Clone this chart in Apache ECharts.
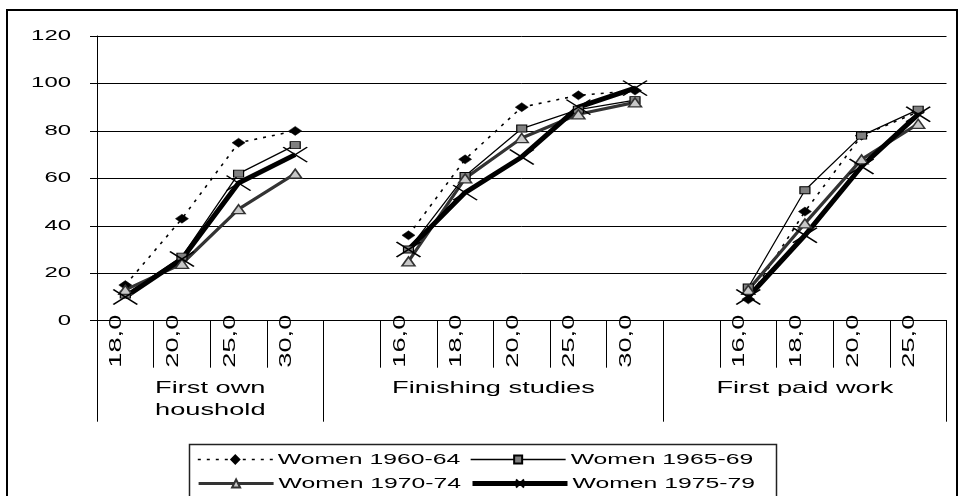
<!DOCTYPE html>
<html>
<head>
<meta charset="utf-8">
<script src="https://cdn.jsdelivr.net/npm/echarts@6/dist/echarts.min.js"></script>
<style>
html,body{margin:0;padding:0;background:#fff;}
#chart{width:959px;height:496px;}
</style>
</head>
<body>
<div id="chart"></div>
<script>
// ---- data ----
const categoriesHousehold = ['18,0', '20,0', '25,0', '30,0'];
const categoriesStudies   = ['16,0', '18,0', '20,0', '25,0', '30,0'];
const categoriesWork      = ['16,0', '18,0', '20,0', '25,0'];
const groupNames = ['First own\nhoushold', 'Finishing studies', 'First paid work'];
const seriesNames = ['Women 1960-64', 'Women 1965-69', 'Women 1970-74', 'Women 1975-79'];

const w6064Household = [15, 43, 75, 80];
const w6064Studies   = [36, 68, 90, 95, 97];
const w6064Work      = [9, 46, 78, 88];

const w6569Household = [11, 27, 62, 74];
const w6569Studies   = [30, 61, 81, 89, 93];
const w6569Work      = [14, 55, 78, 89];

const w7074Household = [13, 24, 47, 62];
const w7074Studies   = [25, 60, 77, 87, 92];
const w7074Work      = [13, 41, 68, 83];

const w7579Household = [10, 26, 58, 70];
const w7579Studies   = [30, 54, 69, 90, 98];
const w7579Work      = [10, 36, 65, 87];

const yMin = 0, yMax = 120, yStep = 20;

// ---- wide text rendering (reference text is horizontally stretched) ----
(function () {
  const K = 1.65;
  const P = CanvasRenderingContext2D.prototype;
  const mt = P.measureText, ft = P.fillText, st = P.strokeText;
  P.measureText = function (t) {
    const m = mt.call(this, t);
    if (t === '\u56fd') return m;
    return {
      width: m.width * K,
      actualBoundingBoxAscent: m.actualBoundingBoxAscent,
      actualBoundingBoxDescent: m.actualBoundingBoxDescent,
      actualBoundingBoxLeft: m.actualBoundingBoxLeft * K,
      actualBoundingBoxRight: m.actualBoundingBoxRight * K,
      fontBoundingBoxAscent: m.fontBoundingBoxAscent,
      fontBoundingBoxDescent: m.fontBoundingBoxDescent
    };
  };
  P.fillText = function (t, x, y) {
    this.save(); this.translate(x, y); this.scale(K, 1); ft.call(this, t, 0, 0); this.restore();
  };
  P.strokeText = function (t, x, y) {
    this.save(); this.translate(x, y); this.scale(K, 1); st.call(this, t, 0, 0); this.restore();
  };
})();

// ---- build category structure ----
const groups = [
  { name: groupNames[0], cats: categoriesHousehold, gap: false },
  { name: groupNames[1], cats: categoriesStudies, gap: true },
  { name: groupNames[2], cats: categoriesWork, gap: true }
];
const xCats = [];
const bounds = [0];
groups.forEach(g => {
  if (g.gap) xCats.push('');
  g.cats.forEach(c => xCats.push(c));
  bounds.push(xCats.length);
});
// second axis: half-category resolution (2N+1 points, boundaryGap false)
const halfCats = new Array(xCats.length * 2 + 1).fill('');
groups.forEach((g, i) => { halfCats[bounds[i] + bounds[i + 1]] = g.name; });
const groupTickIdx = new Set(bounds.map(b => b * 2));

function build(h, s, w) { return [...h, null, ...s, null, ...w]; }

const FONT = 'Liberation Sans, Arial, sans-serif';

// legend layout: one legend per entry (2 x 2)
const legendSlots = [
  { left: 197, top: 452, itemWidth: 75 },
  { left: 470, top: 452, itemWidth: 95 },
  { left: 197, top: 476, itemWidth: 75 },
  { left: 470, top: 476, itemWidth: 95 }
];
const legends = seriesNames.map((n, i) => ({
  data: [n], left: legendSlots[i].left, top: legendSlots[i].top, padding: 0,
  itemWidth: legendSlots[i].itemWidth, itemHeight: 10, itemGap: 0,
  lineStyle: { width: 'inherit' },
  textStyle: { fontSize: 15, fontFamily: FONT, color: '#000', lineHeight: 14 }
}));

const chart = echarts.init(document.getElementById('chart'), null, { renderer: 'canvas' });
chart.setOption({
  animation: false,
  backgroundColor: '#fff',
  textStyle: { fontFamily: FONT, color: '#000' },
  grid: { left: 97, right: 12.5, top: 36, bottom: 175.3, containLabel: false, outerBoundsMode: 'none' },
  graphic: [
    { type: 'rect', silent: true, z: 100, shape: { x: 7, y: 10, width: 950, height: 495 },
      style: { fill: 'none', stroke: '#000', lineWidth: 2 } },
    { type: 'rect', silent: true, z: 100, shape: { x: 189.5, y: 444.5, width: 587, height: 60 },
      style: { fill: 'none', stroke: '#222', lineWidth: 1.5 } }
  ],
  legend: legends,
  xAxis: [
    {
      type: 'category', data: xCats, boundaryGap: true,
      axisLine: { lineStyle: { color: '#000', width: 1 } },
      axisTick: { show: true, interval: 0, length: 47, lineStyle: { color: '#000', width: 1 } },
      axisLabel: { interval: 0, rotate: 90, margin: -6, fontSize: 16.5, fontFamily: FONT,
        color: '#000', verticalAlign: 'bottom' },
      splitLine: { show: false }
    },
    {
      type: 'category', data: halfCats, boundaryGap: false, position: 'bottom', offset: 0,
      axisLine: { show: false },
      axisTick: { show: true, interval: (idx) => groupTickIdx.has(idx), length: 101,
        lineStyle: { color: '#000', width: 1 } },
      axisLabel: { interval: 0, margin: 57, fontSize: 16.5, fontFamily: FONT, color: '#000',
        lineHeight: 22, align: 'center' },
      splitLine: { show: false }
    }
  ],
  yAxis: {
    type: 'value', min: yMin, max: yMax, interval: yStep,
    axisLine: { show: true, lineStyle: { color: '#000', width: 1 } },
    axisTick: { show: true, length: 7, lineStyle: { color: '#000' } },
    axisLabel: { margin: 26, fontSize: 14.5, fontFamily: FONT, color: '#000' },
    splitLine: { show: true, lineStyle: { color: '#000', width: 1 } }
  },
  series: [
    {
      name: seriesNames[0], type: 'line', xAxisIndex: 0,
      data: build(w6064Household, w6064Studies, w6064Work),
      symbol: 'diamond', symbolSize: [13, 9],
      lineStyle: { color: '#000', width: 1.6, type: [3, 6] },
      itemStyle: { color: '#000', borderColor: '#000', borderWidth: 0.5 }
    },
    {
      name: seriesNames[1], type: 'line', xAxisIndex: 0,
      data: build(w6569Household, w6569Studies, w6569Work),
      symbol: 'rect', symbolSize: [10, 7],
      lineStyle: { color: '#000', width: 1.3 },
      itemStyle: { color: '#808080', borderColor: '#000', borderWidth: 1 }
    },
    {
      name: seriesNames[2], type: 'line', xAxisIndex: 0,
      data: build(w7074Household, w7074Studies, w7074Work),
      symbol: 'triangle', symbolSize: [13, 9],
      lineStyle: { color: '#333', width: 3.2 },
      itemStyle: { color: '#c8c8c8', borderColor: '#333', borderWidth: 1.5 }
    },
    {
      name: seriesNames[3], type: 'line', xAxisIndex: 0,
      data: build(w7579Household, w7579Studies, w7579Work),
      symbol: 'path://M0,0L24,16M24,0L0,16', symbolSize: [24, 15],
      lineStyle: { color: '#000', width: 5 },
      itemStyle: { color: '#000', borderColor: '#000', borderWidth: 1.5 }
    }
  ]
});
</script>
</body>
</html>
